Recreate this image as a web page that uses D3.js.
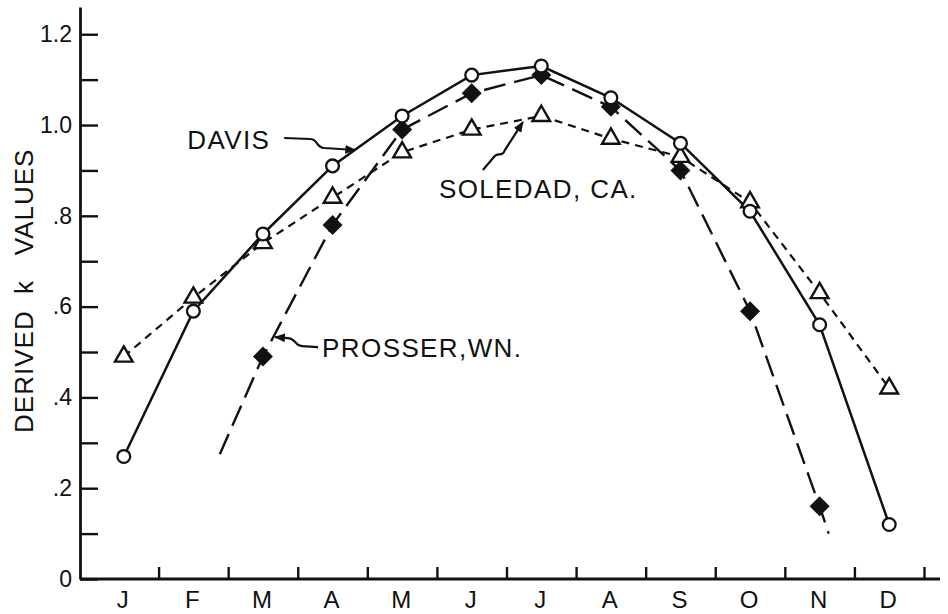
<!DOCTYPE html>
<html>
<head>
<meta charset="utf-8">
<script src="https://cdn.jsdelivr.net/npm/d3@7"></script>
<style>
  body { margin: 0; background: #fff; }
  svg  { display: block; }
  text { font-family: "Liberation Sans", Arial, sans-serif; fill: #111; }
</style>
</head>
<body>
<svg id="chart" width="948" height="614"></svg>
<script>
// ------------------------------------------------------------
// Data (derived k values by month)
// ------------------------------------------------------------
var months  = ['J','F','M','A','M','J','J','A','S','O','N','D'];
var davis   = [0.27, 0.59, 0.76, 0.91, 1.02, 1.11, 1.13, 1.06, 0.96, 0.81, 0.56, 0.12];
var soledad = [0.49, 0.62, 0.74, 0.84, 0.94, 0.99, 1.02, 0.97, 0.93, 0.83, 0.63, 0.42];
var prosser = [null, null, 0.49, 0.78, 0.99, 1.07, 1.11, 1.04, 0.90, 0.59, 0.16, null];
// the Prosser curve is drawn on a little past its first and last points
var prosserTails = [[1.38, 0.275], [10.13, 0.10]];

var yTickValues = [0, 0.1, 0.2, 0.3, 0.4, 0.5, 0.6, 0.7, 0.8, 0.9, 1.0, 1.1, 1.2];
var yTickLabels = ['0', '', '.2', '', '.4', '', '.6', '', '.8', '', '1.0', '', '1.2'];

var ink = '#111';
var svg = d3.select('#chart');

// --- scales ---
var x = d3.scaleLinear().domain([-0.5, 11.5]).range([89, 924]);
var y = d3.scaleLinear().domain([0, 1.26]).range([579, 7]);
var axisX = 80;   // the y axis stands a little left of the first month band

// ------------------------------------------------------------
// Axes
// ------------------------------------------------------------
var yAxis = d3.axisLeft(y)
  .tickValues(yTickValues)
  .tickSizeInner(-18)
  .tickSizeOuter(0)
  .tickPadding(8)
  .tickFormat(function(d, i) { return yTickLabels[i]; });

var gy = svg.append('g')
  .attr('transform', 'translate(' + axisX + ',0)')
  .call(yAxis);
gy.select('.domain').attr('stroke', ink).attr('stroke-width', 2.8);
gy.selectAll('.tick line').attr('stroke', ink).attr('stroke-width', 2.4);
gy.selectAll('.tick text')
  .attr('font-size', 23).attr('fill', ink)
  .attr('font-family', '"Liberation Sans", Arial, sans-serif');

// month boundaries get small upward ticks, labels sit in between
var boundaries = d3.range(0, 12).map(function(i) { return i + 0.5; });
var xTickAxis = d3.axisBottom(x)
  .tickValues(boundaries)
  .tickSizeInner(-12)
  .tickSizeOuter(0)
  .tickFormat('');

var gx = svg.append('g')
  .attr('transform', 'translate(0,' + y(0) + ')')
  .call(xTickAxis);
gx.select('.domain')
  .attr('d', 'M' + axisX + ',0H' + (x.range()[1] + 16))
  .attr('stroke', ink).attr('stroke-width', 2.8);
gx.selectAll('.tick line').attr('stroke', ink).attr('stroke-width', 2.4);

svg.append('g')
  .selectAll('text')
  .data(months)
  .enter()
  .append('text')
  .attr('x', function(d, i) { return x(i) - 1; })
  .attr('y', y(0) + 29)
  .attr('text-anchor', 'middle')
  .attr('font-size', 24)
  .text(function(d) { return d; });

// y axis title
svg.append('text')
  .attr('transform', 'translate(33,' + y(0.635) + ') rotate(-90)')
  .attr('text-anchor', 'middle')
  .attr('font-size', 26)
  .attr('letter-spacing', 1)
  .attr('xml:space', 'preserve')
  .text('DERIVED  k   VALUES');

// ------------------------------------------------------------
// Lines
// ------------------------------------------------------------
var line = d3.line()
  .defined(function(d) { return d[1] != null; })
  .x(function(d) { return x(d[0]); })
  .y(function(d) { return y(d[1]); });

function pairs(values) {
  return values.map(function(v, i) { return [i, v]; });
}

var prosserPts  = pairs(prosser).filter(function(d) { return d[1] != null; });
var prosserLine = [prosserTails[0]].concat(prosserPts, [prosserTails[1]]);

svg.append('path')
  .datum(prosserLine)
  .attr('d', line)
  .attr('fill', 'none').attr('stroke', ink)
  .attr('stroke-width', 2.4)
  .attr('stroke-dasharray', '22,9');

svg.append('path')
  .datum(pairs(soledad))
  .attr('d', line)
  .attr('fill', 'none').attr('stroke', ink)
  .attr('stroke-width', 2.2)
  .attr('stroke-dasharray', '8,6');

svg.append('path')
  .datum(pairs(davis))
  .attr('d', line)
  .attr('fill', 'none').attr('stroke', ink)
  .attr('stroke-width', 2.5);

// ------------------------------------------------------------
// Markers
// ------------------------------------------------------------
svg.append('g')
  .selectAll('path')
  .data(prosserPts)
  .enter()
  .append('path')
  .attr('d', d3.symbol().type(d3.symbolSquare).size(200))
  .attr('transform', function(d) {
    return 'translate(' + x(d[0]) + ',' + y(d[1]) + ') rotate(45)';
  })
  .attr('fill', ink);

svg.append('g')
  .selectAll('path')
  .data(pairs(soledad))
  .enter()
  .append('path')
  .attr('d', d3.symbol().type(d3.symbolTriangle).size(135))
  .attr('transform', function(d) {
    return 'translate(' + x(d[0]) + ',' + y(d[1]) + ')';
  })
  .attr('fill', '#fff').attr('stroke', ink).attr('stroke-width', 2.4);

svg.append('g')
  .selectAll('circle')
  .data(pairs(davis))
  .enter()
  .append('circle')
  .attr('cx', function(d) { return x(d[0]); })
  .attr('cy', function(d) { return y(d[1]); })
  .attr('r', 6.4)
  .attr('fill', '#fff').attr('stroke', ink).attr('stroke-width', 2.3);

// ------------------------------------------------------------
// Hand-drawn style labels with squiggly arrows
// anchor = arrow tip in data units, everything else is a pixel offset
// ------------------------------------------------------------
svg.append('defs').append('marker')
  .attr('id', 'head')
  .attr('viewBox', '0 0 10 10')
  .attr('refX', 9).attr('refY', 5)
  .attr('markerWidth', 5).attr('markerHeight', 5)
  .attr('markerUnits', 'strokeWidth')
  .attr('orient', 'auto')
  .append('path')
  .attr('d', 'M0,1L10,5L0,9z')
  .attr('fill', ink);

var notes = [
  { text: 'DAVIS',        anchor: [3.34, 0.945], tx: -169, ty: -1,
    path: 'M-72,-12L-46,-11C-38,-11,-41,-3,-32,-2L-1,0' },
  { text: 'SOLEDAD, CA.', anchor: [5.75, 1.011], tx: -85,  ty: 78,
    path: 'M-41,50L-30,37C-26,31,-22,38,-19,30L-1,2' },
  { text: 'PROSSER,WN.',  anchor: [2.16, 0.533], tx: 48,   ty: 20,
    path: 'M44,10L28,9C20,9,23,2,14,1L1,0' }
];

notes.forEach(function(n) {
  var ax = x(n.anchor[0]), ay = y(n.anchor[1]);
  var g = svg.append('g').attr('transform', 'translate(' + ax + ',' + ay + ')');
  g.append('path')
    .attr('d', n.path)
    .attr('fill', 'none').attr('stroke', ink).attr('stroke-width', 2.2)
    .attr('marker-end', 'url(#head)');
  g.append('text')
    .attr('x', n.tx).attr('y', n.ty)
    .attr('font-size', 26)
    .attr('letter-spacing', 1.4)
    .text(n.text);
});
</script>
</body>
</html>
